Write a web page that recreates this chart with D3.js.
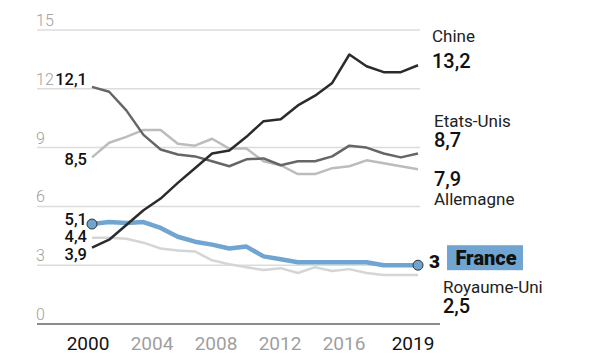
<!DOCTYPE html>
<html>
<head>
<meta charset="utf-8">
<title>Part de la production manufacturière mondiale</title>
<script src="https://cdn.jsdelivr.net/npm/d3@7"></script>
<style>
	body { margin: 0; background: #fff; }
	text { font-family: Roboto, "Liberation Sans", sans-serif; }
</style>
</head>
<body>
<svg id="chart" width="611" height="360"></svg>
<script>
// data
var years = d3.range(2000, 2020);
var chine = [3.9, 4.3, 5.05, 5.8, 6.4, 7.2, 7.95, 8.7, 8.85, 9.55, 10.35, 10.45, 11.15, 11.65, 12.3, 13.75, 13.15, 12.85, 12.85, 13.2];
var etatsUnis = [12.1, 11.85, 10.9, 9.65, 8.9, 8.65, 8.55, 8.3, 8.05, 8.4, 8.45, 8.1, 8.3, 8.3, 8.55, 9.1, 9.0, 8.7, 8.5, 8.7];
var allemagne = [8.5, 9.25, 9.55, 9.9, 9.9, 9.2, 9.1, 9.45, 8.95, 8.95, 8.3, 8.1, 7.65, 7.65, 7.95, 8.05, 8.35, 8.2, 8.05, 7.9];
var france = [5.1, 5.2, 5.15, 5.2, 4.9, 4.45, 4.2, 4.05, 3.85, 3.95, 3.45, 3.3, 3.15, 3.15, 3.15, 3.15, 3.15, 3.0, 3.0, 3.0];
var royaumeUni = [4.4, 4.4, 4.35, 4.15, 3.85, 3.75, 3.7, 3.25, 3.05, 2.9, 2.75, 2.85, 2.6, 2.9, 2.7, 2.8, 2.6, 2.5, 2.5, 2.5];
var yTicks = [0, 3, 6, 9, 12, 15];
var xTicks = [2000, 2004, 2008, 2012, 2016, 2019];
var startLabels = ["3,9", "12,1", "8,5", "5,1", "4,4"];
var endLabels = ["13,2", "8,7", "7,9", "3", "2,5"];
var names = ["Chine", "Etats-Unis", "Allemagne", "France", "Royaume-Uni"];

// sdy / ndy / vdy: baseline offsets of start value, name and end value from the line end
var series = [
	{ name: names[4], values: royaumeUni, color: "#d5d5d5", width: 2.5, start: startLabels[4], end: endLabels[4], sdy: 4, ndy: 18, vdy: 38, ex: 443 },
	{ name: names[2], values: allemagne, color: "#bcbcbc", width: 2.5, start: startLabels[2], end: endLabels[2], sdy: 7.5, ndy: 36, vdy: 17, ex: 434 },
	{ name: names[1], values: etatsUnis, color: "#666666", width: 2.5, start: startLabels[1], end: endLabels[1], sdy: -2, ndy: -26.5, vdy: -6.5, ex: 434 },
	{ name: names[3], values: france, color: "#6fa5d0", width: 4.5, start: startLabels[3], end: endLabels[3], sdy: 1, ex: 429 },
	{ name: names[0], values: chine, color: "#2b2b2b", width: 2.5, start: startLabels[0], end: endLabels[0], sdy: 12, ndy: -23, vdy: 3, ex: 432 }
];

var svg = d3.select("#chart");

var x = d3.scaleLinear().domain([2000, 2019]).range([92, 418]);
var y = d3.scaleLinear().domain([0, 15]).range([324, 30]);
// the year labels in the original sit a bit left of the data points
var xLabel = d3.scaleLinear().domain([2000, 2016]).range([88, 344]);

// gridlines
svg.append("g").selectAll("line")
	.data(yTicks.filter(function(d) { return d > 0; }))
	.enter().append("line")
	.attr("x1", 37).attr("x2", 420)
	.attr("y1", function(d) { return y(d); })
	.attr("y2", function(d) { return y(d); })
	.attr("stroke", "#dcdcdc")
	.attr("stroke-width", 1.5);

svg.append("line")
	.attr("x1", 37).attr("x2", 440)
	.attr("y1", y(0)).attr("y2", y(0))
	.attr("stroke", "#666")
	.attr("stroke-width", 1.5);

svg.append("g").selectAll("text")
	.data(yTicks)
	.enter().append("text")
	.attr("x", 36)
	.attr("y", function(d) { return y(d) - 4; })
	.attr("fill", "#a0a0a0")
	.attr("font-size", 16)
	.attr("font-weight", 300)
	.text(function(d) { return d; });

svg.append("g").selectAll("text")
	.data(xTicks)
	.enter().append("text")
	.attr("x", function(d) { return d == 2019 ? x(d) - 5 : xLabel(d); })
	.attr("y", 350)
	.attr("text-anchor", "middle")
	.attr("font-size", 19)
	.attr("fill", function(d) { return (d == 2000 || d == 2019) ? "#111" : "#a0a0a0"; })
	.text(function(d) { return d; });

var line = d3.line()
	.x(function(d, i) { return x(years[i]); })
	.y(function(d) { return y(d); });

series.forEach(function(s) {
	svg.append("path")
		.datum(s.values)
		.attr("d", line)
		.attr("fill", "none")
		.attr("stroke", s.color)
		.attr("stroke-width", s.width)
		.attr("stroke-linejoin", "round");

	// start value
	svg.append("text")
		.attr("x", 87)
		.attr("y", y(s.values[0]) + s.sdy)
		.attr("text-anchor", "end")
		.attr("font-size", 16.5)
		.attr("font-weight", 500)
		.attr("fill", "#111")
		.text(s.start);

	if (s.name == "France") return;
	var yl = y(s.values[s.values.length - 1]);
	svg.append("text")
		.attr("x", s.ex)
		.attr("y", yl + s.ndy)
		.attr("font-size", 17)
		.attr("fill", "#222")
		.text(s.name);
	svg.append("text")
		.attr("x", s.ex)
		.attr("y", yl + s.vdy)
		.attr("font-size", 20)
		.attr("font-weight", 500)
		.attr("fill", "#111")
		.text(s.end);
});

// France dots and tag
var fr = series[3];
svg.append("g").selectAll("circle")
	.data([0, fr.values.length - 1])
	.enter().append("circle")
	.attr("cx", function(i) { return x(years[i]); })
	.attr("cy", function(i) { return y(fr.values[i]); })
	.attr("r", 5)
	.attr("fill", fr.color)
	.attr("stroke", "#333")
	.attr("stroke-width", 1);

var yf = y(fr.values[fr.values.length - 1]);
svg.append("text")
	.attr("x", fr.ex)
	.attr("y", yf + 3)
	.attr("font-size", 19)
	.attr("font-weight", 900)
	.attr("fill", "#111")
	.text(fr.end);

svg.append("rect")
	.attr("x", 447).attr("y", yf - 20)
	.attr("width", 76).attr("height", 25)
	.attr("fill", fr.color);
svg.append("text")
	.attr("x", 486)
	.attr("y", yf)
	.attr("text-anchor", "middle")
	.attr("font-size", 20)
	.attr("font-weight", 900)
	.attr("fill", "#111")
	.text(fr.name);
</script>
</body>
</html>
